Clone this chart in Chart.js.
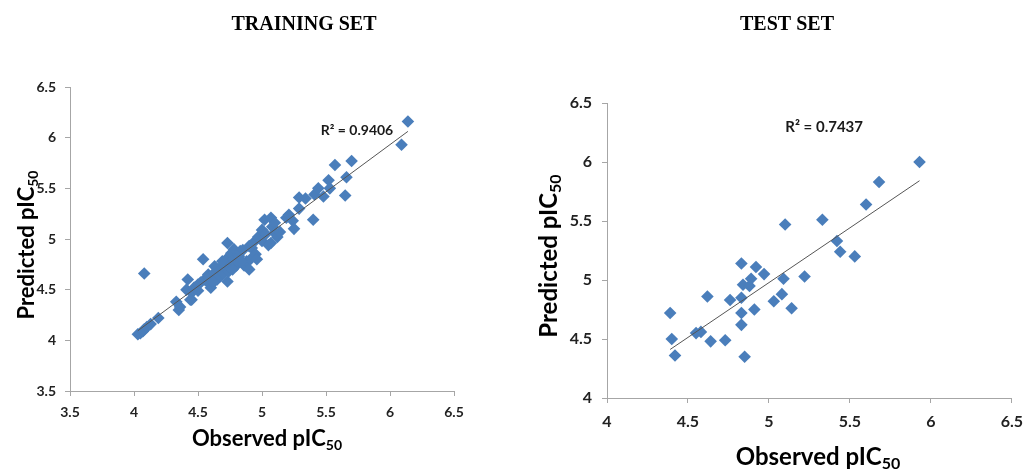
<!DOCTYPE html>
<html><head><meta charset="utf-8">
<script src="https://cdn.jsdelivr.net/npm/chart.js@4.4.1/dist/chart.umd.min.js"></script>
<style>
html,body{margin:0;padding:0;background:#fff;overflow:hidden;}
#wrap{position:relative;width:1032px;height:469px;}
canvas{position:absolute;top:0;}
</style></head><body>
<div id="wrap">
<canvas id="c1" width="516" height="469" style="left:0"></canvas>
<canvas id="c2" width="516" height="469" style="left:516px"></canvas>
</div>
<script>
// ---------- DATA ----------
const trainObserved = [4.03,4.05,4.07,4.08,4.10,4.13,4.19,4.08,4.33,4.35,4.36,4.41,4.42,4.45,4.45,4.47,4.50,4.50,4.54,4.55,
  4.57,4.58,4.59,4.60,4.63,4.63,4.65,4.67,4.68,4.70,4.70,4.72,4.73,4.73,4.74,4.75,4.76,4.76,4.78,4.78,
  4.80,4.82,4.83,4.85,4.86,4.88,4.90,4.90,4.91,4.92,4.93,4.95,4.96,4.97,5.00,5.00,5.02,5.03,5.05,5.07,
  5.07,5.08,5.10,5.10,5.12,5.14,5.19,5.21,5.24,5.25,5.29,5.29,5.34,5.40,5.41,5.44,5.48,5.52,5.53,5.57,
  5.65,5.66,5.70,6.09,6.14,4.52,4.62,4.69,4.77,4.84,4.44];
const trainPredicted = [4.06,4.07,4.09,4.11,4.13,4.16,4.22,4.66,4.38,4.30,4.33,4.50,4.60,4.40,4.47,4.52,4.55,4.49,4.80,4.60,
  4.58,4.65,4.62,4.52,4.67,4.73,4.60,4.63,4.70,4.66,4.75,4.80,4.96,4.58,4.68,4.72,4.86,4.76,4.90,4.80,
  4.74,4.83,4.88,4.89,4.74,4.78,4.93,4.70,4.80,4.91,4.96,4.85,4.80,5.02,5.09,4.98,5.19,5.05,4.94,5.21,
  4.96,5.12,5.16,5.06,5.02,5.07,5.21,5.24,5.18,5.10,5.30,5.41,5.40,5.19,5.44,5.50,5.42,5.58,5.50,5.73,
  5.43,5.61,5.77,5.93,6.16,4.57,4.57,4.78,4.70,4.78,4.40];
const testObserved = [4.83,4.92,4.97,4.89,4.84,4.88,5.09,5.22,4.62,4.76,4.83,5.03,5.08,5.14,4.39,4.83,4.91,
  4.83,4.55,4.58,4.40,4.64,4.73,4.42,4.85,5.93,5.68,5.60,5.10,5.33,5.42,5.44,5.53];
const testPredicted = [5.14,5.11,5.05,5.01,4.96,4.95,5.01,5.03,4.86,4.83,4.85,4.82,4.88,4.76,4.72,4.72,4.75,
  4.62,4.55,4.56,4.50,4.48,4.49,4.36,4.35,6.00,5.83,5.64,5.47,5.51,5.33,5.24,5.20];
const trainTicks = [3.5,4,4.5,5,5.5,6,6.5];
const testTicks = [4,4.5,5,5.5,6,6.5];
const r2Labels = ['R\u00B2 = 0.9406','R\u00B2 = 0.7437'];
const chartTitles = ['TRAINING SET','TEST SET'];

// ---------- helpers ----------
function pts(xs, ys){ return xs.map((x,i)=>({x:x, y:ys[i]})); }
function fitLine(xs, ys){
  const n = xs.length;
  const mx = xs.reduce((a,b)=>a+b,0)/n, my = ys.reduce((a,b)=>a+b,0)/n;
  let sxy=0, sxx=0;
  for(let i=0;i<n;i++){ sxy+=(xs[i]-mx)*(ys[i]-my); sxx+=(xs[i]-mx)*(xs[i]-mx); }
  const b = sxy/sxx, a = my-b*mx;
  const x0 = Math.min(...xs), x1 = Math.max(...xs);
  return [{x:x0,y:a+b*x0},{x:x1,y:a+b*x1}];
}
const FONT = 'Lato, "Open Sans", sans-serif';
function drawSub(ctx, main, sub, size){
  ctx.font = 'bold '+size+'px '+FONT;
  const w1 = ctx.measureText(main).width;
  ctx.font = 'bold '+Math.round(size*0.65)+'px '+FONT;
  const w2 = ctx.measureText(sub).width;
  const start = -(w1+w2)/2;
  ctx.textAlign='left'; ctx.textBaseline='middle';
  ctx.font = 'bold '+size+'px '+FONT;
  ctx.fillText(main, start, 0);
  ctx.font = 'bold '+Math.round(size*0.65)+'px '+FONT;
  ctx.fillText(sub, start+w1, size*0.3);
}
const textPlugin = {
  id:'texts',
  afterDraw(chart, args, o){
    const ctx = chart.ctx;
    ctx.save();
    ctx.fillStyle = '#000';
    ctx.font = 'bold 20px "Liberation Serif", "Times New Roman", serif';
    ctx.textAlign='center'; ctx.textBaseline='middle';
    ctx.fillText(o.title, o.titleX, o.titleY);
    ctx.fillStyle = '#1a1a1a';
    ctx.font = 'bold '+o.r2Size+'px '+FONT;
    ctx.fillText(o.r2, chart.scales.x.getPixelForValue(o.r2At[0]), chart.scales.y.getPixelForValue(o.r2At[1]));
    ctx.fillStyle = '#000';
    ctx.save(); ctx.translate(o.xtX, o.xtY); drawSub(ctx,'Observed pIC','50',o.atSize); ctx.restore();
    ctx.save(); ctx.translate(o.ytX, o.ytY); ctx.rotate(-Math.PI/2); drawSub(ctx,'Predicted pIC','50',o.atSize); ctx.restore();
    ctx.restore();
  }
};

function makeChart(id, obs, pred, ticks, cfg){
  const axisCommon = (tickSize, pad) => ({
    type:'linear',
    min: ticks[0], max: ticks[ticks.length-1],
    ticks:{ stepSize:0.5, color:'#222', font:{family:FONT, size:tickSize, weight:'bold'}, padding:pad,
            callback: v => String(Math.round(v*10)/10) },
    grid:{ drawOnChartArea:false, drawTicks:true, tickLength:5, color:'#a6a6a6', lineWidth:1 },
    border:{ display:true, color:'#a6a6a6', width:1 }
  });
  const xAxis = axisCommon(cfg.tickSize, cfg.xPad);
  xAxis.position='bottom';
  xAxis.afterFit = s => { s.height = cfg.xH; };
  const yAxis = axisCommon(cfg.tickSize, cfg.yPad);
  yAxis.position='left';
  yAxis.afterFit = s => { s.width = cfg.yW; };
  return new Chart(document.getElementById(id), {
    type:'scatter',
    data:{ datasets:[
      { type:'line', data: fitLine(obs,pred), borderColor:'#555', borderWidth:1, pointRadius:0, order:0, fill:false },
      { data: pts(obs,pred), pointStyle:'rectRot', pointRadius:6.3, backgroundColor:'#4a7ebb', borderColor:'#4a7ebb', borderWidth:0, order:1 }
    ]},
    options:{
      responsive:false, animation:false, devicePixelRatio:1,
      layout:{ padding:{ left:0, top:cfg.top, right:cfg.right, bottom:0 } },
      plugins:{ legend:{display:false}, tooltip:{enabled:false}, title:{display:false}, texts: cfg.texts },
      scales:{ x:xAxis, y:yAxis }
    },
    plugins:[textPlugin]
  });
}

makeChart('c1', trainObserved, trainPredicted, trainTicks, {
  tickSize:14, xPad:8, yPad:9, xH:78, yW:70, top:87, right:62,
  texts:{ title:chartTitles[0], titleX:304, titleY:25, r2:r2Labels[0], r2At:[5.742,6.069], r2Size:14,
          xtX:267, xtY:439, ytX:27, ytY:245, atSize:22 }
});
makeChart('c2', testObserved, testPredicted, testTicks, {
  tickSize:16, xPad:9, yPad:10, xH:71, yW:91, top:103, right:13,
  texts:{ title:chartTitles[1], titleX:271, titleY:25, r2:r2Labels[1], r2At:[5.341,6.297], r2Size:15,
          xtX:302, xtY:457, ytX:33, ytY:256, atSize:24 }
});
</script>
</body></html>
